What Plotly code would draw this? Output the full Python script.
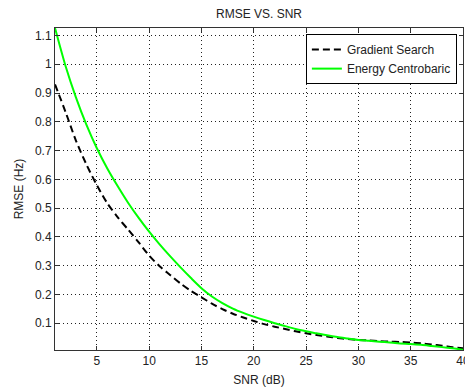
import plotly.graph_objects as go

snr = list(range(1, 41))
gradient_search = [0.930, 0.835, 0.735, 0.652, 0.580, 0.517, 0.468, 0.425, 0.381, 0.335,
                   0.298, 0.268, 0.238, 0.212, 0.190, 0.168, 0.149, 0.133, 0.120, 0.108,
                   0.097, 0.088, 0.080, 0.072, 0.065, 0.059, 0.054, 0.049, 0.045, 0.042,
                   0.040, 0.038, 0.036, 0.035, 0.033, 0.030, 0.026, 0.022, 0.017, 0.013]
energy_centrobaric = [1.126, 0.995, 0.885, 0.790, 0.708, 0.638, 0.576, 0.518, 0.466, 0.418,
                      0.374, 0.333, 0.294, 0.257, 0.222, 0.193, 0.170, 0.151, 0.136, 0.123,
                      0.111, 0.100, 0.090, 0.080, 0.072, 0.065, 0.058, 0.052, 0.047, 0.042,
                      0.039, 0.036, 0.033, 0.030, 0.028, 0.025, 0.021, 0.017, 0.013, 0.008]
x_ticks = [5, 10, 15, 20, 25, 30, 35, 40]
y_ticks = [0.1, 0.2, 0.3, 0.4, 0.5, 0.6, 0.7, 0.8, 0.9, 1.0, 1.1]
y_tick_labels = ["0.1", "0.2", "0.3", "0.4", "0.5", "0.6", "0.7", "0.8", "0.9", "1", "1.1"]

fig = go.Figure()
fig.add_trace(go.Scatter(x=snr, y=gradient_search, mode="lines", name="Gradient Search",
                         line=dict(color="black", width=2, dash="7px,4px",
                                   shape="spline", smoothing=0.8)))
fig.add_trace(go.Scatter(x=snr, y=energy_centrobaric, mode="lines", name="Energy Centrobaric",
                         line=dict(color="#00ff00", width=2, shape="spline", smoothing=0.8)))

FAM = "Liberation Sans, Arial, sans-serif"
font = dict(family=FAM, size=12, color="#222")
axis_common = dict(showline=True, linecolor="#333", linewidth=1, mirror="ticks",
                   ticks="inside", ticklen=4, tickcolor="#333",
                   showgrid=True, gridcolor="#222", gridwidth=1, griddash="1px,3px",
                   zeroline=False, tickfont=font, automargin=False)

# page body has an 8px margin: figure is sized/offset to compensate
fig.update_layout(
    template="none",
    width=465, height=379,
    margin=dict(l=47, r=10, t=20, b=37, autoexpand=False),
    paper_bgcolor="white", plot_bgcolor="white",
    font=font,
    title=dict(text="RMSE VS. SNR", xref="paper", x=0.5, xanchor="center",
               y=0.984, yanchor="middle", font=font),
    xaxis=dict(range=[1, 40], tickvals=x_ticks, **axis_common,
               title=dict(text="SNR (dB)", standoff=8, font=font)),
    yaxis=dict(range=[0.007, 1.126], tickvals=y_ticks, ticktext=y_tick_labels, **axis_common,
               title=dict(text="RMSE (Hz)", standoff=8, font=font)),
    legend=dict(x=0.985, y=0.981, xanchor="right", yanchor="top",
                bgcolor="white", bordercolor="black", borderwidth=1,
                font=font, tracegroupgap=0, itemwidth=30),
    showlegend=True,
)

fig.write_html("out.html")
